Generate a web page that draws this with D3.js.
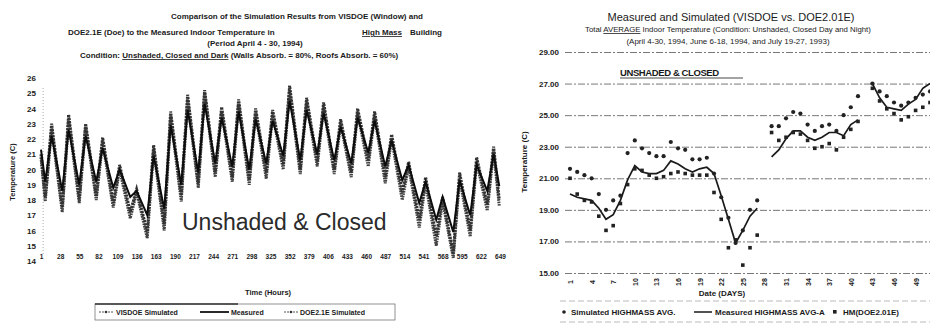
<!DOCTYPE html>
<html><head><meta charset="utf-8">
<script src="https://cdn.jsdelivr.net/npm/d3@7"></script>
<style>
body{margin:0;background:#fff;}
svg{display:block;font-family:"Liberation Sans",Arial,sans-serif;}
</style></head><body>
<svg id="c" width="930" height="334"></svg>
<script>
// ---------- LEFT CHART DATA (hourly, April 4-30 1994) ----------
const leftHourTicks = [1,28,55,82,109,136,163,190,217,244,271,298,325,352,379,406,433,460,487,514,541,568,595,622,649];
const leftYTicks = [14,15,16,17,18,19,20,21,22,23,24,25,26];
// hours at which daily troughs / peaks were read
const leftHours = [1,7,16,31,40,55,64,79,88,103,112,127,136,151,160,175,184,199,208,223,232,247,256,271,280,295,304,319,328,343,352,367,376,391,400,415,424,439,448,463,472,487,496,511,520,535,544,559,568,583,592,607,616,631,640,648];
const visdoeSim = [21.0, 18.2,23.0, 17.5,23.6, 18.1,23.0, 18.3,22.1, 17.8,20.3, 17.2,18.7, 15.9,21.6, 16.4,23.8, 18.3,24.9, 19.1,25.2, 19.8,24.1, 19.5,24.6, 19.3,24.0, 19.8,23.9, 20.3,25.5, 20.0,24.7, 20.5,24.4, 20.0,23.3, 19.8,24.0, 20.6,23.8, 19.5,22.3, 18.5,20.5, 16.7,19.5, 15.6,18.2, 14.5,19.8, 16.0,20.8, 17.7,21.5, 18.0];
const doeSim    = [20.8, 17.9,22.7, 17.2,23.3, 17.8,22.8, 18.0,21.8, 17.5,20.0, 16.8,18.5, 15.5,21.3, 16.0,23.5, 17.9,24.6, 18.8,25.0, 19.5,23.8, 19.2,24.3, 19.0,23.7, 19.4,23.6, 20.0,25.2, 19.7,24.4, 20.2,24.1, 19.7,23.0, 19.5,23.7, 20.2,23.5, 19.1,22.0, 18.0,20.2, 16.2,19.1, 15.0,17.9, 14.2,19.4, 15.6,20.5, 17.3,21.2, 17.6];
const measuredL = [21.3, 19.2,22.2, 18.6,22.6, 19.0,22.2, 19.2,21.4, 18.8,20.0, 18.2,18.6, 17.0,20.9, 17.4,22.9, 19.0,23.9, 19.8,24.3, 20.4,23.4, 20.2,23.8, 20.0,23.3, 20.4,23.2, 20.9,24.5, 20.6,23.9, 21.0,23.7, 20.6,22.8, 20.4,23.4, 21.1,23.2, 20.2,21.9, 19.3,20.3, 17.8,19.2, 16.7,18.2, 15.9,19.3, 17.0,20.3, 18.6,21.0, 18.9];

// ---------- RIGHT CHART DATA (daily averages) ----------
const days = d3.range(1, 52);
const dayTicks = [1,4,7,10,13,16,19,22,25,28,31,34,37,40,43,46,49];
const rightYTicks = [15,17,19,21,23,25,27,29];
const measuredAvg = [20.0,19.8,19.7,19.6,19.1,18.4,18.7,19.6,20.9,21.8,21.4,21.3,21.3,21.5,22.1,21.9,21.6,21.4,21.6,21.7,21.3,19.9,18.4,16.9,17.7,18.6,19.1, null, 22.35,22.8,23.5,24.0,24.0,23.6,23.4,23.6,23.9,23.9,23.7,24.4,24.7, null, 27.0,26.1,25.5,25.4,25.3,25.7,26.0,26.7,27.0];
const simAvg = [21.6,21.4,21.2,21.0,20.0,19.0,19.6,19.9,22.6,23.4,22.9,22.6,22.4,22.4,23.3,22.9,22.8,22.2,22.2,22.3,21.3,19.8,18.5,16.9,17.7,19.0,19.6, null, 24.3,24.3,24.8,25.2,25.1,24.4,24.0,24.3,24.4,24.0,25.0,25.5,26.2, null, 27.0,26.5,26.2,25.8,25.6,25.8,26.1,26.3,26.5];
const doeAvg = [21.0,20.0,19.6,19.5,18.6,17.7,18.0,19.4,20.6,21.6,21.5,21.2,21.0,21.1,21.3,21.4,21.3,21.2,21.2,21.2,20.1,18.4,16.6,17.1,15.5,16.6,17.4, null, 23.9,23.4,23.6,23.9,23.8,23.4,22.9,23.0,23.2,22.8,23.6,24.1,24.6, null, 26.7,25.9,25.4,25.1,24.7,24.9,25.3,25.5,25.8];

const svg = d3.select("#c");
const ink = "#1a1a1a";

// ================= LEFT CHART =================
const xL = d3.scaleLinear().domain([1, 649]).range([41, 500]);
const yL = d3.scaleLinear().domain([14, 26]).range([261, 78]);

// titles
const tL = svg.append("g").attr("fill", ink).attr("font-weight", "bold").attr("font-size", 8);
tL.append("text").attr("x", 297).attr("y", 19).attr("text-anchor", "middle")
  .text("Comparison of the Simulation Results from VISDOE (Window) and");
const l2 = tL.append("text").attr("x", 68).attr("y", 35);
l2.append("tspan").text("DOE2.1E (Doe) to the Measured Indoor Temperature in");
l2.append("tspan").attr("x", 362).attr("text-decoration", "underline").text("High Mass");
l2.append("tspan").attr("x", 410).text("Building");
tL.append("text").attr("x", 255).attr("y", 46).attr("text-anchor", "middle").text("(Period April 4 - 30, 1994)");
const l4 = tL.append("text").attr("x", 80).attr("y", 58);
l4.append("tspan").text("Condition: ");
l4.append("tspan").attr("text-decoration", "underline").text("Unshaded, Closed and Dark");
l4.append("tspan").text(" (Walls Absorb. = 80%, Roofs Absorb. = 60%)");

// faint dotted y axis line
svg.append("line").attr("x1", xL(4)).attr("x2", xL(4)).attr("y1", 88).attr("y2", 255)
  .attr("stroke", "#aaa").attr("stroke-dasharray", "1,2");

// y axis labels
const yAxL = svg.append("g").attr("transform", "translate(37,0)")
  .call(d3.axisLeft(yL).tickValues(leftYTicks).tickSize(0).tickPadding(1));
yAxL.select(".domain").remove();
yAxL.selectAll("text").attr("font-size", 8).attr("font-weight", "bold").attr("fill", ink)
  .attr("font-family", "Liberation Sans, Arial");

// x axis labels
const xAxL = svg.append("g").attr("transform", "translate(0,253)")
  .call(d3.axisBottom(xL).tickValues(leftHourTicks).tickSize(0).tickPadding(1));
xAxL.select(".domain").remove();
xAxL.selectAll("text").attr("font-size", 6.5).attr("font-weight", "bold").attr("fill", ink)
  .attr("font-family", "Liberation Sans, Arial");

svg.append("text").attr("transform", "translate(15,172) rotate(-90)").attr("text-anchor", "middle")
  .attr("font-size", 7.5).attr("font-weight", "bold").attr("fill", ink).text("Temperature (C)");
svg.append("text").attr("x", 268).attr("y", 295).attr("text-anchor", "middle")
  .attr("font-size", 7.5).attr("font-weight", "bold").attr("fill", ink).text("Time (Hours)");

const lineL = d3.line().x((d, i) => xL(leftHours[i])).y(d => yL(d));
svg.append("path").datum(doeSim).attr("d", lineL).attr("fill", "none")
  .attr("stroke", "#444").attr("stroke-width", 3).attr("stroke-dasharray", "1.6,0.9");
svg.append("path").datum(visdoeSim).attr("d", lineL).attr("fill", "none")
  .attr("stroke", "#333").attr("stroke-width", 3).attr("stroke-dasharray", "2.2,1");
svg.append("path").datum(measuredL).attr("d", lineL).attr("fill", "none")
  .attr("stroke", "#0d0d0d").attr("stroke-width", 2);

svg.append("text").attr("x", 182).attr("y", 230).attr("font-size", 23).attr("fill", "#2b2b2b")
  .text("Unshaded & Closed");

// left legend
const lg = svg.append("g").attr("font-size", 7).attr("font-weight", "bold").attr("fill", ink);
lg.append("rect").attr("x", 95).attr("y", 304).attr("width", 300).attr("height", 16)
  .attr("fill", "none").attr("stroke", "#777").attr("stroke-width", 0.8);
lg.append("line").attr("x1", 95).attr("x2", 238).attr("y1", 304).attr("y2", 304).attr("stroke", "#333").attr("stroke-width", 1.6);
lg.append("line").attr("x1", 99).attr("x2", 113).attr("y1", 312).attr("y2", 312).attr("stroke", "#555").attr("stroke-dasharray", "2,1");
lg.append("circle").attr("cx", 106).attr("cy", 312).attr("r", 1.3).attr("fill", "#333");
lg.append("text").attr("x", 116).attr("y", 314.5).text("VISDOE Simulated");
lg.append("line").attr("x1", 200).attr("x2", 229).attr("y1", 312).attr("y2", 312).attr("stroke", "#111").attr("stroke-width", 1.8);
lg.append("text").attr("x", 231).attr("y", 314.5).text("Measured");
lg.append("line").attr("x1", 284).attr("x2", 298).attr("y1", 312).attr("y2", 312).attr("stroke", "#555").attr("stroke-dasharray", "2,1");
lg.append("circle").attr("cx", 291).attr("cy", 312).attr("r", 1.3).attr("fill", "#333");
lg.append("text").attr("x", 300).attr("y", 314.5).text("DOE2.1E Simulated");

// ================= RIGHT CHART =================
const xR = d3.scalePoint().domain(days).range([570, 930]);
const yR = d3.scaleLinear().domain([15, 29]).range([273, 52]);

const tR = svg.append("g").attr("fill", ink).attr("text-anchor", "middle");
tR.append("text").attr("x", 731).attr("y", 21).attr("font-size", 11).text("Measured and Simulated (VISDOE vs. DOE2.01E)");
const r2 = tR.append("text").attr("x", 728).attr("y", 32).attr("font-size", 7.8);
r2.append("tspan").text("Total ");
r2.append("tspan").attr("text-decoration", "underline").text("AVERAGE");
r2.append("tspan").text(" Indoor Temperature (Condition: Unshaded, Closed Day and Night)");
tR.append("text").attr("x", 728).attr("y", 44).attr("font-size", 8).text("(April 4-30, 1994, June 6-18, 1994, and July 19-27, 1993)");

// grid
const grid = svg.append("g").attr("transform", "translate(565,0)")
  .call(d3.axisLeft(yR).tickValues(rightYTicks).tickSize(-365).tickFormat(""));
grid.select(".domain").remove();
grid.selectAll("line").attr("stroke", "#777").attr("stroke-width", 1).attr("stroke-dasharray", "7,2,2,2");

const yAxR = svg.append("g").attr("transform", "translate(559,0)")
  .call(d3.axisLeft(yR).tickValues(rightYTicks).tickSize(0).tickPadding(0).tickFormat(d3.format(".2f")));
yAxR.select(".domain").remove();
yAxR.selectAll("text").attr("font-size", 8).attr("font-weight", "bold").attr("fill", ink)
  .attr("font-family", "Liberation Sans, Arial");

const xAxR = svg.append("g").attr("transform", "translate(0,275)")
  .call(d3.axisBottom(xR).tickValues(dayTicks).tickSize(0));
xAxR.select(".domain").remove();
xAxR.selectAll("text").attr("transform", "rotate(-90)").attr("text-anchor", "middle")
  .attr("x", -7).attr("y", 0).attr("dy", "0.35em")
  .attr("font-size", 7).attr("font-weight", "bold").attr("fill", ink)
  .attr("font-family", "Liberation Sans, Arial");

svg.append("text").attr("transform", "translate(527,162) rotate(-90)").attr("text-anchor", "middle")
  .attr("font-size", 8).attr("font-weight", "bold").attr("fill", ink).text("Temperature (C)");
svg.append("text").attr("x", 722).attr("y", 296).attr("text-anchor", "middle")
  .attr("font-size", 8).attr("font-weight", "bold").attr("fill", ink).text("Date (DAYS)");

svg.append("text").attr("x", 620).attr("y", 76).attr("font-size", 9.5).attr("font-weight", "bold")
  .attr("fill", ink).attr("letter-spacing", -0.4).text("UNSHADED & CLOSED");
svg.append("line").attr("x1", 620).attr("x2", 743).attr("y1", 78).attr("y2", 78).attr("stroke", ink).attr("stroke-width", 0.8);

const lineR = d3.line().defined(d => d != null).x((d, i) => xR(days[i])).y(d => yR(d));
svg.append("path").datum(measuredAvg).attr("d", lineR).attr("fill", "none")
  .attr("stroke", "#1a1a1a").attr("stroke-width", 1.7);

svg.append("g").selectAll("circle").data(simAvg.map((v, i) => [days[i], v]).filter(d => d[1] != null))
  .join("circle").attr("cx", d => xR(d[0])).attr("cy", d => yR(d[1])).attr("r", 2.1).attr("fill", "#222");
svg.append("g").selectAll("rect").data(doeAvg.map((v, i) => [days[i], v]).filter(d => d[1] != null))
  .join("rect").attr("x", d => xR(d[0]) - 1.8).attr("y", d => yR(d[1]) - 1.8).attr("width", 3.6).attr("height", 3.6).attr("fill", "#222");

// right legend
const rg = svg.append("g").attr("font-size", 8).attr("font-weight", "bold").attr("fill", ink);
rg.append("line").attr("x1", 560).attr("x2", 930).attr("y1", 301).attr("y2", 301).attr("stroke", "#bbb").attr("stroke-dasharray", "6,3");
rg.append("line").attr("x1", 560).attr("x2", 930).attr("y1", 322).attr("y2", 322).attr("stroke", "#bbb").attr("stroke-dasharray", "6,3");
rg.append("circle").attr("cx", 564).attr("cy", 312).attr("r", 1.8).attr("fill", "#222");
rg.append("text").attr("x", 571).attr("y", 315).text("Simulated HIGHMASS AVG.");
rg.append("line").attr("x1", 694).attr("x2", 712).attr("y1", 312).attr("y2", 312).attr("stroke", "#1a1a1a").attr("stroke-width", 1.5);
rg.append("text").attr("x", 715).attr("y", 315).text("Measured HIGHMASS AVG-A");
rg.append("rect").attr("x", 833).attr("y", 310).attr("width", 3.6).attr("height", 3.6).attr("fill", "#222");
rg.append("text").attr("x", 843).attr("y", 315).text("HM(DOE2.01E)");
</script>
</body></html>
